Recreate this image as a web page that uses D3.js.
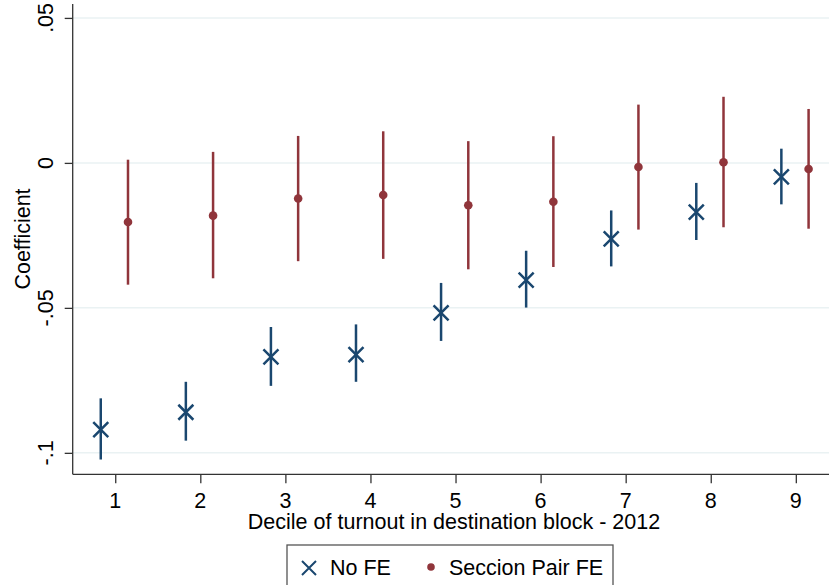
<!DOCTYPE html>
<html><head><meta charset="utf-8">
<script src="https://cdn.jsdelivr.net/npm/d3@7"></script>
<style>body{margin:0;background:#fff}svg{display:block;font-family:"Liberation Sans",Arial,sans-serif}</style>
</head><body><svg id="c" width="829" height="585"></svg>
<script>
const deciles = [1,2,3,4,5,6,7,8,9];
const noFE = [-0.0920,-0.0860,-0.0669,-0.0661,-0.0517,-0.0404,-0.0262,-0.0170,-0.0048];
const noFELo = [-0.1023,-0.0958,-0.0769,-0.0755,-0.0614,-0.0499,-0.0357,-0.0266,-0.0143];
const noFEHi = [-0.0812,-0.0755,-0.0566,-0.0557,-0.0414,-0.0303,-0.0164,-0.0069,0.0049];
const pairFE = [-0.0204,-0.0182,-0.0123,-0.0111,-0.0146,-0.0134,-0.0014,0.0002,-0.0021];
const pairFELo = [-0.0420,-0.0398,-0.0339,-0.0331,-0.0367,-0.0359,-0.0230,-0.0222,-0.0227];
const pairFEHi = [0.0011,0.0038,0.0093,0.0109,0.0075,0.0092,0.0201,0.0228,0.0186];
const yTicks = [0.05,0,-0.05,-0.1];
const yTickLabels = [".05","0","-.05","-.1"];
const xLabel = "Decile of turnout in destination block - 2012";
const yLabel = "Coefficient";
const seriesNames = ["No FE","Seccion Pair FE"];

const navy = "#1a476f", maroon = "#90353b", grid = "#eaf2f3";
const FS = 21.5;
const svg = d3.select("#c");
const L = 72.7, R = 829, T = 4, B = 474.3;
const x = d3.scaleLinear().domain([0.5, 9.39]).range([L, R]);
const y = d3.scaleLinear().domain([-0.1074, 0.0548]).range([B, T]);

// gridlines
svg.append("g").selectAll("line").data(yTicks).join("line")
  .attr("x1", L).attr("x2", R).attr("y1", d=>y(d)).attr("y2", d=>y(d))
  .attr("stroke", grid).attr("stroke-width", 1.5);

// axes
const yAxis = svg.append("g").attr("transform", `translate(${L},0)`)
  .call(d3.axisLeft(y).tickValues(yTicks).tickSize(8).tickFormat(""));
const xAxis = svg.append("g").attr("transform", `translate(0,${B})`)
  .call(d3.axisBottom(x).tickValues(deciles).tickSize(9).tickFormat(""));
[yAxis, xAxis].forEach(a => {
  a.select(".domain").attr("stroke", "#333").attr("stroke-width", 1.3);
  a.selectAll(".tick line").attr("stroke", "#333").attr("stroke-width", 1.3);
});
xAxis.select(".domain").attr("d", `M${L},0H${R}`);
yAxis.select(".domain").attr("d", `M0,${T}V${B}`);

// y tick labels rotated
svg.append("g").selectAll("text").data(yTicks).join("text")
  .attr("transform", d=>`translate(53,${y(d)}) rotate(-90)`)
  .attr("text-anchor","middle").attr("font-size", FS).attr("fill","#000")
  .text((d,i)=>yTickLabels[i]);
// x tick labels
svg.append("g").selectAll("text").data(deciles).join("text")
  .attr("x", d=>x(d)).attr("y", 508).attr("text-anchor","middle")
  .attr("font-size", FS).attr("fill","#000").text(d=>d);
// axis titles
svg.append("text").attr("x", 454).attr("y", 529).attr("text-anchor","middle")
  .attr("font-size", FS).text(xLabel);
svg.append("text").attr("transform","translate(30,239) rotate(-90)")
  .attr("text-anchor","middle").attr("font-size", FS).text(yLabel);

const off1 = -0.17, off2 = 0.15;
// CI lines
svg.append("g").selectAll("line").data(deciles).join("line")
  .attr("x1", d=>x(d+off2)).attr("x2", d=>x(d+off2))
  .attr("y1", (d,i)=>y(pairFELo[i])).attr("y2", (d,i)=>y(pairFEHi[i]))
  .attr("stroke", maroon).attr("stroke-width", 2.5);
svg.append("g").selectAll("line").data(deciles).join("line")
  .attr("x1", d=>x(d+off1)).attr("x2", d=>x(d+off1))
  .attr("y1", (d,i)=>y(noFELo[i])).attr("y2", (d,i)=>y(noFEHi[i]))
  .attr("stroke", navy).attr("stroke-width", 2.5);
// points
svg.append("g").selectAll("circle").data(deciles).join("circle")
  .attr("cx", d=>x(d+off2)).attr("cy", (d,i)=>y(pairFE[i])).attr("r", 4.3)
  .attr("fill", maroon);
const xs = 7.5;
const xPath = `M${-xs},${-xs}L${xs},${xs}M${-xs},${xs}L${xs},${-xs}`;
svg.append("g").selectAll("path").data(deciles).join("path")
  .attr("transform", (d,i)=>`translate(${x(d+off1)},${y(noFE[i])})`)
  .attr("d", xPath).attr("stroke", navy).attr("stroke-width", 2.5).attr("fill","none");

// legend
const lg = svg.append("g");
lg.append("rect").attr("x", 287).attr("y", 545).attr("width", 326).attr("height", 50)
  .attr("fill","#fff").attr("stroke","#555").attr("stroke-width",1.3);
lg.append("path").attr("transform","translate(309,568)")
  .attr("d", "M-7,-7L7,7M-7,7L7,-7").attr("stroke", navy).attr("stroke-width", 2).attr("fill","none");
lg.append("text").attr("x", 330).attr("y", 575).attr("font-size", FS).text(seriesNames[0]);
lg.append("circle").attr("cx", 431).attr("cy", 567).attr("r", 3.8).attr("fill", maroon);
lg.append("text").attr("x", 449).attr("y", 575).attr("font-size", FS).text(seriesNames[1]);
</script></body></html>
